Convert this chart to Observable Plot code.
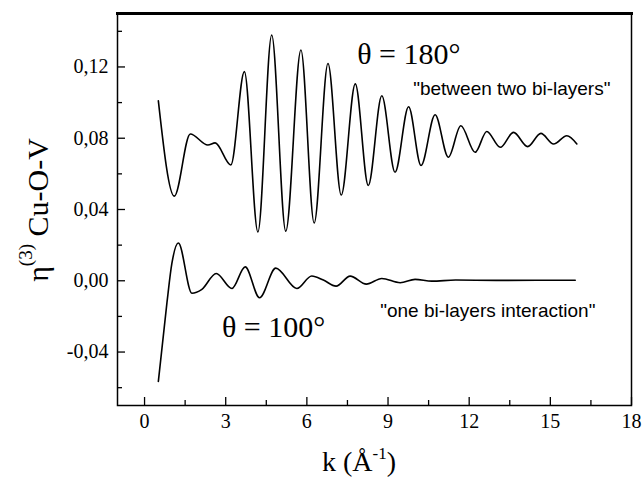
<!DOCTYPE html>
<html><head><meta charset="utf-8">
<script src="https://cdn.jsdelivr.net/npm/d3@7"></script>
<script src="https://cdn.jsdelivr.net/npm/@observablehq/plot@0.6"></script>
<style>
body{margin:0;background:#fff}
g[aria-label$="tick label"], g[aria-label$="tick label"] text {font-family: "Liberation Serif", "Times New Roman", serif !important; font-size: 20px !important; fill:#000;}
</style>
</head><body><div id="chart"></div>
<script>
// theta = 180° curve ("between two bi-layers")
const k180 = [0.51,1.10,1.69,2.34,2.61,3.19,3.69,4.19,4.70,5.22,5.78,6.27,6.78,7.27,7.79,8.27,8.77,9.26,9.76,10.22,10.74,11.23,11.69,12.22,12.65,13.15,13.64,14.16,14.65,15.12,15.61,15.98];
const eta180 = [0.101,0.0475,0.0824,0.0762,0.0774,0.0650,0.1174,0.0274,0.1379,0.0278,0.1295,0.0324,0.1219,0.0481,0.1105,0.0535,0.1038,0.0609,0.0977,0.0647,0.0932,0.0693,0.0870,0.0721,0.0838,0.0749,0.0833,0.0753,0.0827,0.0768,0.0814,0.0768];
// theta = 100° curve ("one bi-layers interaction")
const k100 = [0.51,0.83,1.01,1.25,1.75,2.12,2.65,3.23,3.72,4.25,4.85,5.63,6.18,6.61,7.08,7.60,8.20,8.77,9.45,10.0,10.62,11.5,13.0,14.5,15.92];
const eta100 = [-0.0565,-0.012,0.0097,0.0212,-0.0070,-0.0048,0.0041,-0.0043,0.0078,-0.0095,0.0071,-0.0043,0.0027,0.0004,-0.0030,0.0026,-0.0019,0.0013,-0.0011,0.0008,-0.0002,0.0004,0.0002,0.0003,0.0003];

const xTicks = [0,3,6,9,12,15,18];
const xTickLabels = ["0","3","6","9","12","15","18"];
const xMinor = [1.5,4.5,7.5,10.5,13.5,16.5];
const yTicks = [-0.04,0,0.04,0.08,0.12];
const yTickLabels = ["-0,04","0,00","0,04","0,08","0,12"];
const yMinor = [-0.06,-0.02,0.02,0.06,0.10,0.14];

const upper = k180.map((k,i)=>({k, v: eta180[i]}));
const lower = k100.map((k,i)=>({k, v: eta100[i]}));

const W = 644, H = 478, mL = 117, mR = 13, mT = 13, mB = 73;
const innerW = W - mL - mR, innerH = H - mT - mB;
const serif = "Liberation Serif, Times New Roman, serif";
const sans = "Liberation Sans, Arial, sans-serif";

const chart = Plot.plot({
  width: W, height: H,
  marginLeft: mL, marginRight: mR, marginTop: mT, marginBottom: mB,
  x: {domain: [-1, 18]},
  y: {domain: [-0.07, 0.15]},
  style: {fontFamily: serif, color: "#000", background: "#fff", overflow: "visible"},
  marks: [
    Plot.line(upper, {x: "k", y: "v", curve: "monotone-x", stroke: "#000", strokeWidth: 1.6}),
    Plot.line(lower, {x: "k", y: "v", curve: "monotone-x", stroke: "#000", strokeWidth: 1.6}),
    Plot.tickY(yTicks, {y: d => d, insetRight: innerW - 8, stroke: "#000", strokeWidth: 1.3}),
    Plot.tickY(yMinor, {y: d => d, insetRight: innerW - 5, stroke: "#000", strokeWidth: 1.3}),
    Plot.tickX(xTicks, {x: d => d, insetTop: innerH - 8, stroke: "#000", strokeWidth: 1.3}),
    Plot.tickX(xMinor, {x: d => d, insetTop: innerH - 5, stroke: "#000", strokeWidth: 1.3}),
    Plot.axisY(yTicks, {tickSize: 0, tickPadding: 9, tickFormat: d => yTickLabels[yTicks.indexOf(d)], fontSize: 20, fontFamily: serif, fill: "#000", label: null}),
    Plot.axisX(xTicks, {tickSize: 0, tickPadding: 8, tickFormat: d => xTickLabels[xTicks.indexOf(d)], fontSize: 20, fontFamily: serif, fill: "#000", label: null}),
    Plot.frame({stroke: "#000", strokeWidth: 1.5}),
    Plot.frame({anchor: "top", stroke: "#000", strokeWidth: 3}),
    Plot.text(["θ = 180°"], {x: 7.86, y: 0.1217, text: d => d, textAnchor: "start", lineAnchor: "bottom", fontSize: 30, fontFamily: serif}),
    Plot.text(["θ = 100°"], {x: 2.86, y: -0.0315, text: d => d, textAnchor: "start", lineAnchor: "bottom", fontSize: 30, fontFamily: serif}),
    Plot.text(["\"between two bi-layers\""], {x: 9.93, y: 0.1044, text: d => d, textAnchor: "start", lineAnchor: "bottom", fontSize: 19, fontFamily: sans}),
    Plot.text(["\"one bi-layers interaction\""], {x: 8.71, y: -0.0201, text: d => d, textAnchor: "start", lineAnchor: "bottom", fontSize: 19, fontFamily: sans})
  ]
});
document.getElementById("chart").appendChild(chart);

const svg = d3.select(chart);
// y-axis title
const yt = svg.append("text")
  .attr("transform", "translate(48,210) rotate(-90)")
  .attr("text-anchor", "middle")
  .attr("font-family", serif).attr("font-size", 30).attr("fill", "#000");
yt.append("tspan").text("η");
yt.append("tspan").attr("font-size", 19).attr("dy", -16).text("(3)");
yt.append("tspan").attr("dy", 16).text(" Cu-O-V");
// x-axis title
const xt = svg.append("text")
  .attr("x", 359).attr("y", 471)
  .attr("text-anchor", "middle")
  .attr("font-family", serif).attr("font-size", 28).attr("fill", "#000");
xt.append("tspan").text("k (Å");
xt.append("tspan").attr("font-size", 17).attr("dy", -12).text("-1");
xt.append("tspan").attr("dy", 12).text(")");
</script>
</body></html>
